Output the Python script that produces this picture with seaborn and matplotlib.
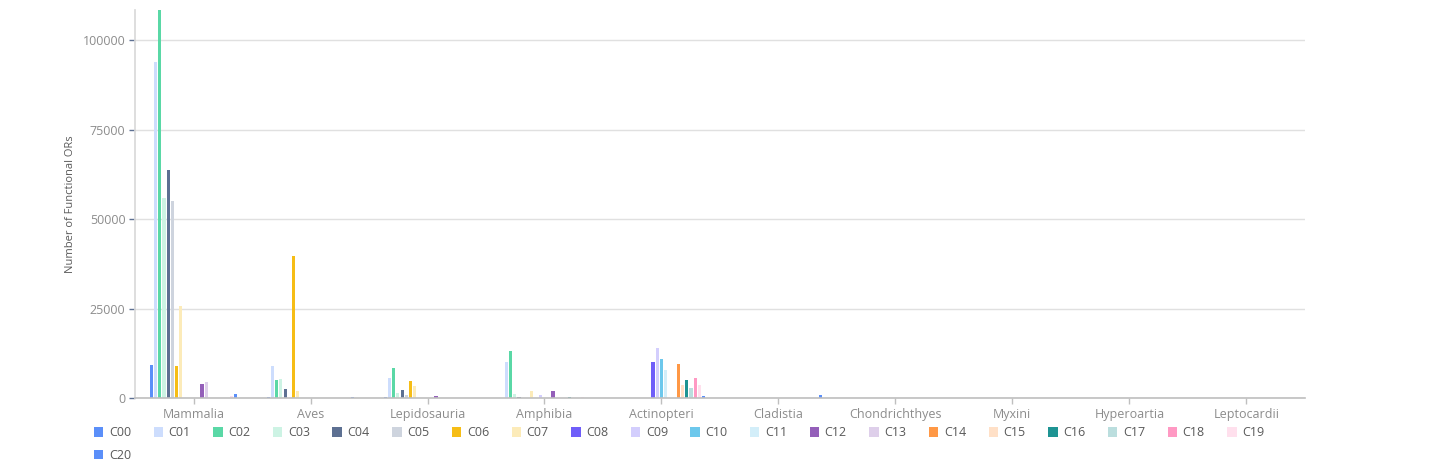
import matplotlib
matplotlib.use("Agg")
import matplotlib.pyplot as plt
import pandas as pd
import seaborn as sns

classes = ["Mammalia", "Aves", "Lepidosauria", "Amphibia", "Actinopteri",
           "Cladistia", "Chondrichthyes", "Myxini", "Hyperoartia", "Leptocardii"]
series = ["C%02d" % i for i in range(21)]

# values per class, one entry per series C00..C20
mammalia = [9200, 94000, 108400, 56000, 63600, 55000, 9000, 25800, 0, 0, 0,
            0, 4000, 4600, 0, 0, 0, 0, 0, 500, 1100]
aves = [300, 9000, 5000, 5400, 2400, 0, 39800, 2000, 0, 0, 0,
        0, 0, 100, 0, 0, 0, 0, 0, 0, 300]
lepidosauria = [400, 5700, 8500, 1500, 2100, 700, 4800, 3300, 0, 0, 0,
                0, 500, 0, 0, 0, 0, 0, 0, 0, 0]
amphibia = [0, 10000, 13100, 1200, 400, 0, 0, 1900, 0, 700, 0,
            0, 1900, 0, 0, 0, 400, 0, 0, 200, 0]
actinopteri = [0, 0, 0, 0, 0, 0, 0, 0, 10000, 13900, 10900,
               7800, 0, 0, 9600, 3500, 4900, 2900, 5500, 3500, 500]
cladistia = [0, 0, 100, 0, 0, 0, 0, 0, 0, 0, 0,
             0, 0, 0, 100, 0, 100, 0, 0, 0, 800]
chondrichthyes = [0] * 21
myxini = [0] * 21
hyperoartia = [0, 0, 60, 0, 0, 0, 60, 0, 0, 0, 60,
               0, 0, 0, 0, 0, 0, 0, 0, 0, 0]
leptocardii = [0] * 21

colors = ["#5B8FF9", "#CDDDFD", "#5AD8A6", "#CDF3E4", "#5D7092", "#CED4DE",
          "#F6BD16", "#FCEBB9", "#6F5EF9", "#D3CEFD", "#6DC8EC", "#D3EEF9",
          "#945FB9", "#DECFEA", "#FF9845", "#FFE0C7", "#1E9493", "#BBDEDE",
          "#FF99C3", "#FFE0ED", "#5B8FF9"]

values = [mammalia, aves, lepidosauria, amphibia, actinopteri,
          cladistia, chondrichthyes, myxini, hyperoartia, leptocardii]
rows = []
for cls, vals in zip(classes, values):
    for s, v in zip(series, vals):
        rows.append({"cls": cls, "series": s, "value": v})
df = pd.DataFrame(rows)

sns.set_theme(style="whitegrid")
plt.rcParams["font.family"] = ["Open Sans", "DejaVu Sans"]

fig = plt.figure(figsize=(14.37, 4.69), dpi=100)
ax = fig.add_axes([0.094, 0.1514, 0.814, 0.8273])

sns.barplot(data=df, x="cls", y="value", hue="series", order=classes,
            hue_order=series, palette=colors, saturation=1, width=0.76,
            gap=0.25, linewidth=0, errorbar=None, ax=ax)

ax.set_ylim(0, 108400)
ax.set_xlim(-0.5, len(classes) - 0.5)
ax.set_yticks([0, 25000, 50000, 75000, 100000])
ax.set_yticklabels(["0", "25000", "50000", "75000", "100000"])
ax.set_xlabel("")
ax.set_ylabel("Number of Functional ORs", fontsize=8, color="#595959", labelpad=5)

ax.set_facecolor("white")
ax.grid(axis="y", color="#e0e0e0", linewidth=1)
ax.grid(axis="x", visible=False)
for side in ["top", "right"]:
    ax.spines[side].set_visible(False)
ax.spines["left"].set_color("#d9d9d9")
ax.spines["bottom"].set_color("#bfbfbf")
ax.spines["bottom"].set_linewidth(1.2)
ax.tick_params(axis="y", colors="#5D7092", length=4, width=1, labelsize=9,
               labelcolor="#8c8c8c", left=True, pad=3)
ax.tick_params(axis="x", colors="#bfbfbf", length=4, width=1, labelsize=9,
               labelcolor="#8c8c8c", bottom=True, pad=3)

handles, labels = ax.get_legend_handles_labels()
ax.legend_.remove()
# legend fills column by column: put C20 second so it lands under C00
order = [0, 20] + list(range(1, 20))
fig.legend([handles[i] for i in order], [labels[i] for i in order],
           ncol=20, loc="upper left",
           bbox_to_anchor=(0.0655, 0.091), frameon=False, fontsize=9,
           handlelength=0.75, handleheight=0.75, handletextpad=0.45,
           columnspacing=1.8, labelspacing=0.75, labelcolor="#595959",
           borderaxespad=0, borderpad=0)

fig.savefig("out.png", dpi=100, facecolor="white")
